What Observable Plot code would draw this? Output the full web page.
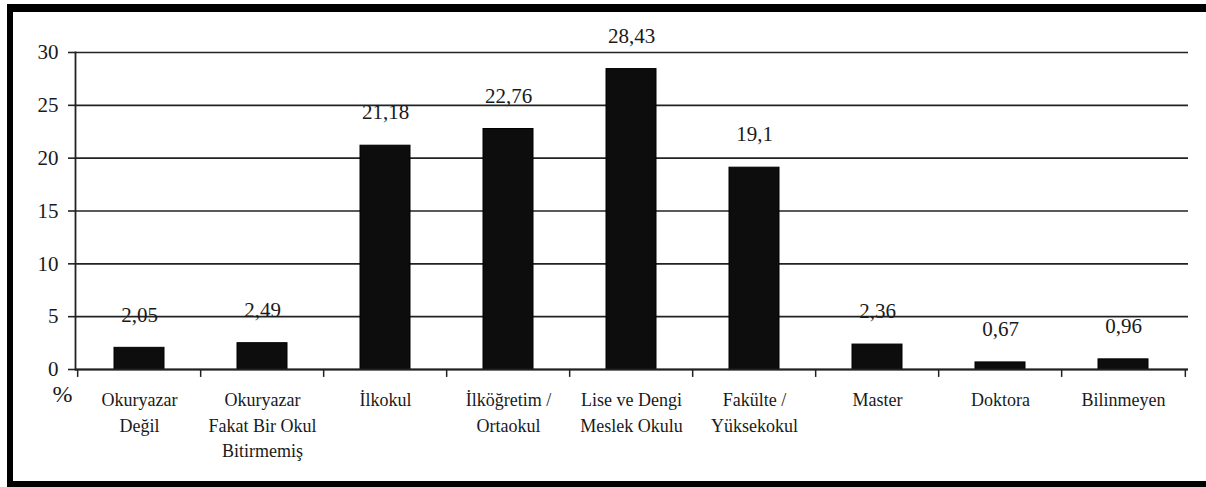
<!DOCTYPE html>
<html>
<head>
<meta charset="utf-8">
<script src="https://cdn.jsdelivr.net/npm/d3@7"></script>
<script src="https://cdn.jsdelivr.net/npm/@observablehq/plot@0.6"></script>
<style>
  html, body { margin: 0; padding: 0; background: #fff; }
  #wrap { position: relative; width: 1206px; height: 487px; overflow: hidden; }
  #frame { position: absolute; left: 7px; top: 4px; width: 1199px; height: 483px;
           box-sizing: border-box; border-left: 6px solid #000; border-top: 8px solid #000;
           border-bottom: 6px solid #000; pointer-events: none; }
  #chart { position: absolute; left: 0; top: 0; }
</style>
</head>
<body>
<div id="wrap"><div id="chart"></div><div id="frame"></div></div>
<script>
const categories = ["Okuryazar Değil", "Okuryazar Fakat Bir Okul Bitirmemiş", "İlkokul", "İlköğretim / Ortaokul", "Lise ve Dengi Meslek Okulu", "Fakülte / Yüksekokul", "Master", "Doktora", "Bilinmeyen"];
const tickLabels = ["Okuryazar\nDeğil", "Okuryazar\nFakat Bir Okul\nBitirmemiş", "İlkokul", "İlköğretim /\nOrtaokul", "Lise ve Dengi\nMeslek Okulu", "Fakülte /\nYüksekokul", "Master", "Doktora", "Bilinmeyen"];
const values = [2.05, 2.49, 21.18, 22.76, 28.43, 19.1, 2.36, 0.67, 0.96];
const yTicks = [0, 5, 10, 15, 20, 25, 30];

const data = categories.map((c, i) => ({cat: c, value: values[i], label: String(values[i]).replace(".", ",")}));
const labelOf = new Map(categories.map((c, i) => [c, tickLabels[i]]));

const W = 1206, H = 487, mL = 75, mR = 18, mT = 52, mB = 118;
const step = (W - mL - mR) / categories.length;
const FF = "Liberation Serif";

const plot = Plot.plot({
  width: W, height: H,
  marginLeft: mL, marginRight: mR, marginTop: mT, marginBottom: mB,
  style: {color: "#1a1a1a", background: "transparent"},
  x: {domain: categories, paddingInner: 0.59, paddingOuter: 0.295, label: null},
  y: {domain: [0, 30], label: null},
  marks: [
    Plot.gridY(yTicks, {stroke: "#222", strokeWidth: 1.6, strokeOpacity: 1}),
    Plot.axisY(yTicks, {tickSize: 7, tickPadding: 10, fontSize: 21, stroke: "#222", strokeWidth: 1.6, label: null}),
    Plot.frame({anchor: "left", stroke: "#222", strokeWidth: 1.8}),
    Plot.barY(data, {x: "cat", y: "value", fill: "#0d0d0d", stroke: "#000", strokeWidth: 1}),
    Plot.ruleY([0], {stroke: "#222", strokeWidth: 1.8}),
    Plot.ruleX(categories, {x: d => d, y1: 0, y2: -0.75, dx: -step / 2, stroke: "#222", strokeWidth: 1.5}),
    Plot.ruleX([categories[categories.length - 1]], {x: d => d, y1: 0, y2: -0.75, dx: step / 2, stroke: "#222", strokeWidth: 1.5}),
    Plot.text(data, {x: "cat", y: "value", text: "label", dy: -33, fontSize: 21, fill: "#1a1a1a"}),
    Plot.axisX({tickSize: 0, tickPadding: 19, fontSize: 18, lineHeight: 1.4, tickFormat: d => labelOf.get(d), label: null}),
    Plot.text(["%"], {frameAnchor: "bottom-left", dx: -23, dy: 32, fontSize: 24, fill: "#1a1a1a"})
  ]
});
plot.setAttribute("font-family", FF);
plot.style.fontFamily = FF;
plot.querySelectorAll("g, text, tspan").forEach(el => { el.removeAttribute("font-family"); el.style.fontFamily = FF; });
document.getElementById("chart").appendChild(plot);
</script>
</body>
</html>
